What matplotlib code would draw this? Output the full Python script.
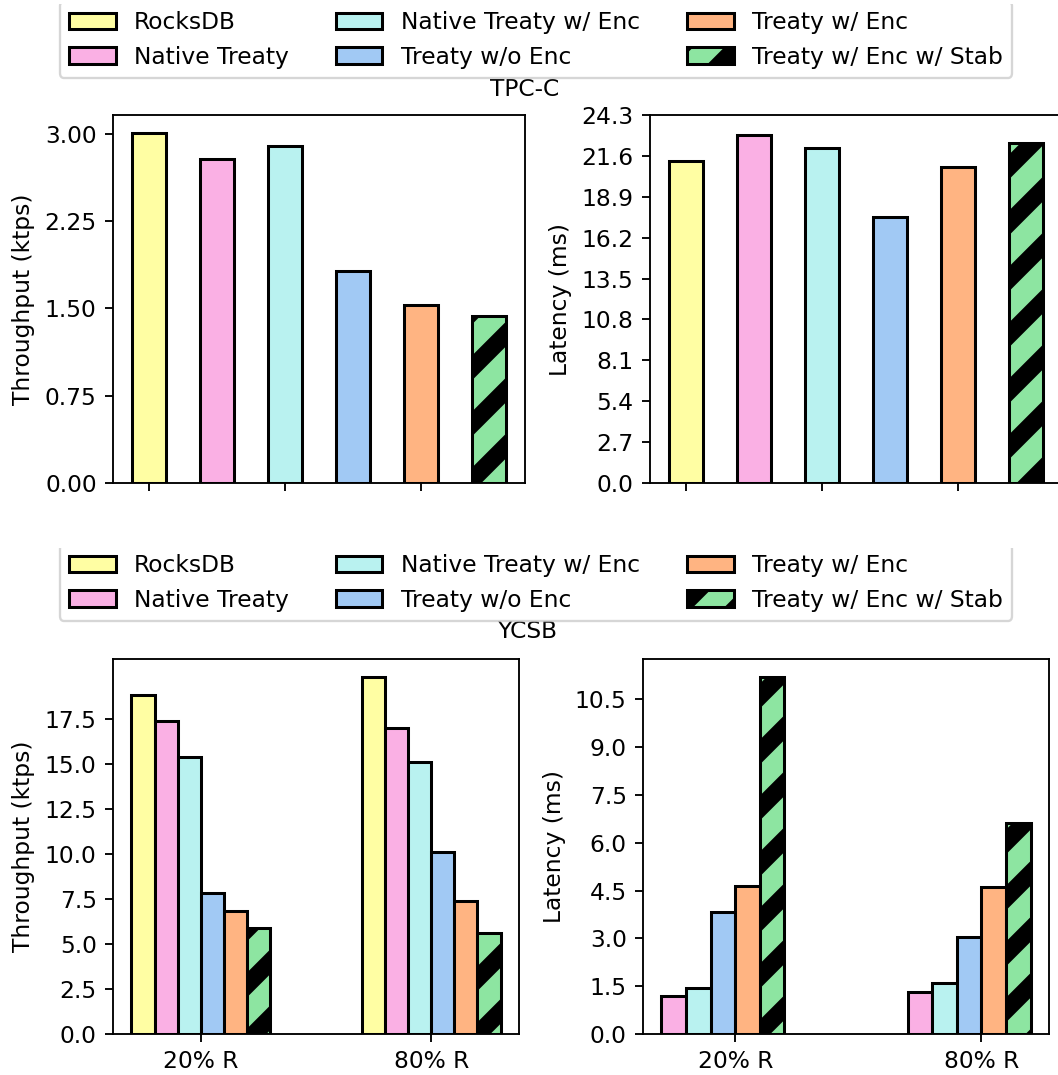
import numpy as np
import matplotlib
matplotlib.use("Agg")
import matplotlib.pyplot as plt
from matplotlib.transforms import Bbox, TransformedBbox

plt.rcParams['font.family'] = ['DejaVu Sans']
plt.rcParams['font.size'] = 10
plt.rcParams['hatch.linewidth'] = 7.5
plt.rcParams['hatch.color'] = 'black'

# ---- data ----
systems = ["RocksDB", "Native Treaty", "Native Treaty w/ Enc",
           "Treaty w/o Enc", "Treaty w/ Enc", "Treaty w/ Enc w/ Stab"]
colors = ["#fffea3", "#fab0e4", "#b9f2f0", "#a1c9f4", "#ffb482", "#8de5a1"]
hatches = ["", "", "", "", "", "/"]

tpcc_throughput = [3.01, 2.78, 2.89, 1.82, 1.53, 1.43]
tpcc_latency = [21.28, 22.98, 22.10, 17.54, 20.89, 22.43]

workloads = ["20% R", "80% R"]
ycsb_throughput = {
    "RocksDB": [18.83, 19.81],
    "Native Treaty": [17.35, 16.98],
    "Native Treaty w/ Enc": [15.37, 15.09],
    "Treaty w/o Enc": [7.81, 10.07],
    "Treaty w/ Enc": [6.80, 7.39],
    "Treaty w/ Enc w/ Stab": [5.89, 5.59],
}
ycsb_latency_systems = systems[1:]
ycsb_latency = {
    "Native Treaty": [1.20, 1.33],
    "Native Treaty w/ Enc": [1.43, 1.61],
    "Treaty w/o Enc": [3.82, 3.05],
    "Treaty w/ Enc": [4.64, 4.62],
    "Treaty w/ Enc w/ Stab": [11.21, 6.61],
}

W, H = 1058, 1075
DPI = 168
fig = plt.figure(figsize=(W / DPI, H / DPI), dpi=DPI)

def ax_rect(left, top, right, bottom):
    return [left / W, (H - bottom) / H, (right - left) / W, (bottom - top) / H]

ax1 = fig.add_axes(ax_rect(113, 115, 525, 483))
ax2 = fig.add_axes(ax_rect(650, 115, 1062, 483))
ax3 = fig.add_axes(ax_rect(113, 659, 519, 1034))
ax4 = fig.add_axes(ax_rect(643, 659, 1049, 1034))

EDGE_LW = 1.3

# TPC-C throughput
x = np.arange(len(systems))
for i, s in enumerate(systems):
    ax1.bar(x[i], tpcc_throughput[i], width=0.5, color=colors[i],
            edgecolor='black', linewidth=EDGE_LW, hatch=hatches[i], label=s)
ax1.set_xticks([0, 2, 4])
ax1.set_xticklabels(["", "", ""])
ax1.set_yticks(np.arange(0, max(tpcc_throughput), 0.75))
ax1.yaxis.set_major_formatter(matplotlib.ticker.FormatStrFormatter('%.2f'))
ax1.set_ylabel("Throughput (ktps)")

# TPC-C latency
for i, s in enumerate(systems):
    ax2.bar(x[i], tpcc_latency[i], width=0.5, color=colors[i],
            edgecolor='black', linewidth=EDGE_LW, hatch=hatches[i])
ax2.set_xticks([0, 2, 4])
ax2.set_xticklabels(["", "", ""])
ax2.set_ylim(0, 24.3)
ax2.set_yticks(np.linspace(0, 24.3, 10))
ax2.yaxis.set_major_formatter(matplotlib.ticker.FormatStrFormatter('%.1f'))
ax2.set_ylabel("Latency (ms)")

# YCSB throughput
xw = np.arange(len(workloads))
bw = 0.1
for i, s in enumerate(systems):
    ax3.bar(xw + (i - 2.5) * bw, ycsb_throughput[s], width=bw, color=colors[i],
            edgecolor='black', linewidth=EDGE_LW, hatch=hatches[i])
ax3.set_xticks(xw)
ax3.set_xticklabels(workloads)
ymax3 = max(max(v) for v in ycsb_throughput.values())
ax3.set_yticks(np.arange(0, ymax3, 2.5))
ax3.set_ylabel("Throughput (ktps)")

# YCSB latency
for i, s in enumerate(ycsb_latency_systems):
    ci = systems.index(s)
    ax4.bar(xw + (i - 2.5) * bw, ycsb_latency[s], width=bw, color=colors[ci],
            edgecolor='black', linewidth=EDGE_LW, hatch=hatches[ci])
ax4.set_xticks(xw)
ax4.set_xticklabels(workloads)
ymax4 = max(max(v) for v in ycsb_latency.values())
ax4.set_yticks(np.arange(0, ymax4, 1.5))
ax4.set_ylabel("Latency (ms)")

handles, labels = ax1.get_legend_handles_labels()
leg1 = fig.legend(handles, labels, ncol=3, loc='upper center',
                  bbox_to_anchor=(536 / W, 1 + 10 / H), frameon=True)
leg2 = fig.legend(handles, labels, ncol=3, loc='upper center',
                  bbox_to_anchor=(536 / W, 1 - 533 / H), frameon=True)
# the frames' top edges are cut off in the original
leg1.get_frame().set_clip_box(
    TransformedBbox(Bbox([[0, 0], [1, 1 - 4 / H]]), fig.transFigure))
leg2.get_frame().set_clip_box(
    TransformedBbox(Bbox([[0, 0], [1, 1 - 548 / H]]), fig.transFigure))

fig.text(525 / W, 1 - 90 / H, "TPC-C", ha='center', va='center')
fig.text(527 / W, 1 - 632 / H, "YCSB", ha='center', va='center')

fig.savefig("out.png", dpi=DPI)
